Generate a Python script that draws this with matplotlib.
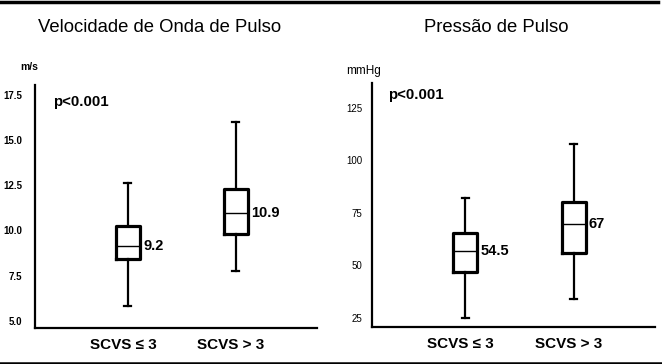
import matplotlib
matplotlib.use("Agg")
import matplotlib.pyplot as plt
from matplotlib.lines import Line2D

plt.rcParams["font.family"] = ["Liberation Sans", "DejaVu Sans"]

groups = ["SCVS \u2264 3", "SCVS > 3"]
positions = [1, 2]

# Velocidade de Onda de Pulso (m/s): whisker low, q1, median, q3, whisker high
vop_low = [5.8, 7.75]
vop_q1 = [8.4, 9.8]
vop_med = [9.15, 10.95]
vop_q3 = [10.25, 12.3]
vop_high = [12.6, 16.0]
vop_labels = ["9.2", "10.9"]
vop_ticks = [5.0, 7.5, 10.0, 12.5, 15.0, 17.5]

# Pressão de Pulso (mmHg)
pp_low = [25.0, 34.0]
pp_q1 = [46.9, 55.9]
pp_med = [56.9, 69.7]
pp_q3 = [65.5, 80.2]
pp_high = [82.1, 107.8]
pp_labels = ["54.5", "67"]
pp_ticks = [25, 50, 75, 100, 125]


def stats(low, q1, med, q3, high):
    return [dict(whislo=a, q1=b, med=c, q3=d, whishi=e, fliers=[])
            for a, b, c, d, e in zip(low, q1, med, q3, high)]


def draw_panel(ax, st, labels, ticks, ylim, fmt, tick_weight, tick_pad, dx):
    ax.bxp(st, positions=positions, widths=0.22, capwidths=0.065,
           showfliers=False,
           boxprops=dict(color="black", linewidth=2.3),
           whiskerprops=dict(color="black", linewidth=1.6),
           capprops=dict(color="black", linewidth=1.6),
           medianprops=dict(color="black", linewidth=1.0))
    for pos, s, lab in zip(positions, st, labels):
        ax.text(pos + dx, s["med"], lab, ha="left", va="center",
                fontsize=10.5, fontweight="bold")
    ax.set_xlim(0.14, 2.75)
    ax.set_ylim(*ylim)
    ax.set_yticks(ticks)
    ax.set_yticklabels([fmt.format(t) for t in ticks], fontsize=7,
                       fontweight=tick_weight)
    # group labels sit a little left of the box centres in the original
    ax.set_xticks([p - 0.045 for p in positions])
    ax.set_xticklabels(groups, fontsize=11, fontweight="bold")
    ax.tick_params(axis="y", length=0, pad=tick_pad)
    ax.tick_params(axis="x", length=0, pad=7)
    for side in ["top", "right"]:
        ax.spines[side].set_visible(False)
    for side in ["left", "bottom"]:
        ax.spines[side].set_linewidth(1.6)


fig = plt.figure(figsize=(6.62, 3.64), dpi=100)

ax1 = fig.add_axes([35 / 662, 36 / 364, 282 / 662, 243 / 364])
draw_panel(ax1, stats(vop_low, vop_q1, vop_med, vop_q3, vop_high), vop_labels,
           vop_ticks, (4.6, 18.05), "{:.1f}", "bold", 9, 0.14)
ax1.text(0.065, 0.93, "p<0.001", transform=ax1.transAxes, ha="left",
         va="center", fontsize=10.8, fontweight="bold")

ax2 = fig.add_axes([372 / 662, 37 / 364, 283 / 662, 244 / 364])
draw_panel(ax2, stats(pp_low, pp_q1, pp_med, pp_q3, pp_high), pp_labels,
           pp_ticks, (20.7, 136.9), "{:d}", "normal", 7, 0.14)
ax2.text(0.055, 0.95, "p<0.001", transform=ax2.transAxes, ha="left",
         va="center", fontsize=10.8, fontweight="bold")

fig.text(29 / 662, 1 - 67 / 364, "m/s", ha="center", va="center",
         fontsize=7.5, fontweight="bold")
fig.text(364 / 662, 1 - 71 / 364, "mmHg", ha="center", va="center",
         fontsize=8.5)

fig.text(38 / 662, 1 - 28 / 364, "Velocidade de Onda de Pulso", ha="left",
         va="center", fontsize=13.3)
fig.text(424 / 662, 1 - 27 / 364, "Pressão de Pulso", ha="left",
         va="center", fontsize=13.3)

# black frame bits of the original figure
fig.add_artist(Line2D([0, 658 / 662], [1 - 1.5 / 364, 1 - 1.5 / 364],
                      transform=fig.transFigure, color="black", linewidth=2.5))
fig.add_artist(Line2D([0, 1], [1.5 / 364, 1.5 / 364],
                      transform=fig.transFigure, color="black", linewidth=1.8))

fig.savefig("out.png", dpi=100)
